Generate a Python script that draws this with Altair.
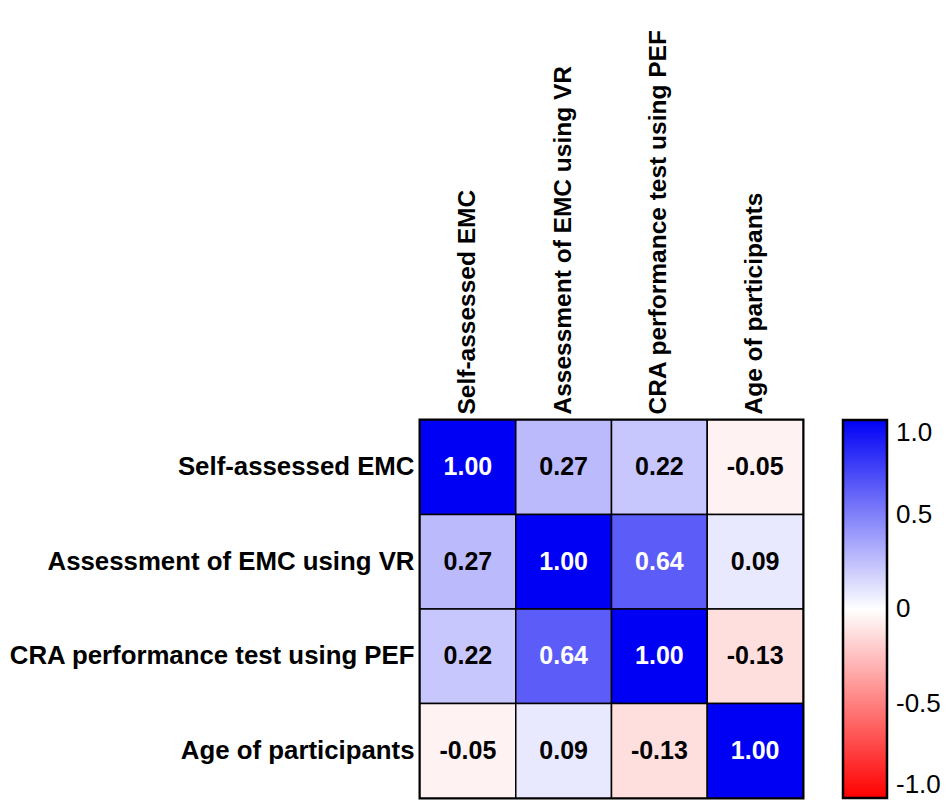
import altair as alt
import pandas as pd

variables = [
    "Self-assessed EMC",
    "Assessment of EMC using VR",
    "CRA performance test using PEF",
    "Age of participants",
]
row_self = [1.00, 0.27, 0.22, -0.05]
row_vr = [0.27, 1.00, 0.64, 0.09]
row_pef = [0.22, 0.64, 1.00, -0.13]
row_age = [-0.05, 0.09, -0.13, 1.00]
matrix = [row_self, row_vr, row_pef, row_age]
legend_ticks = [-1.0, -0.5, 0.0, 0.5, 1.0]

records = []
for i, rname in enumerate(variables):
    for j, cname in enumerate(variables):
        v = matrix[i][j]
        records.append({"row": rname, "col": cname, "r": v, "label": f"{v:.2f}"})
df = pd.DataFrame(records)

FONT = "Liberation Sans"

base = alt.Chart(df).encode(
    x=alt.X("col:N", sort=variables,
            axis=alt.Axis(orient="top", title=None, labelAngle=-90, labelAlign="left",
                          labelBaseline="middle", labelFont=FONT, labelFontSize=24.5,
                          labelFontWeight="bold", labelColor="black", ticks=False,
                          domain=False, labelPadding=6, labelLimit=600)),
    y=alt.Y("row:N", sort=variables,
            axis=alt.Axis(title=None, labelFont=FONT, labelFontSize=25.8,
                          labelFontWeight="bold", labelColor="black", ticks=False,
                          domain=False, labelPadding=6, labelLimit=600)),
)

rects = base.mark_rect(stroke="black", strokeWidth=1.5).encode(
    color=alt.Color("r:Q",
                    scale=alt.Scale(domain=[-1, 0, 1], range=["#ff0000", "#ffffff", "#0000f5"],
                                    interpolate="rgb"),
                    legend=alt.Legend(title=None, orient="right", offset=40,
                                      direction="vertical", gradientLength=378,
                                      gradientThickness=44, gradientStrokeColor="black",
                                      gradientStrokeWidth=2.5, values=legend_ticks,
                                      labelFont=FONT, labelFontSize=26, labelColor="black",
                                      labelOffset=9, labelBaseline="middle",
                                      labelOverlap=False,
                                      labelExpr="datum.value == 0 ? '0' : (datum.value < 0 ? '-' + format(-datum.value, '.1f') : format(datum.value, '.1f'))"))
)

texts = base.mark_text(font=FONT, fontSize=25, fontWeight="bold").encode(
    text="label:N",
    color=alt.condition("datum.r > 0.5", alt.value("white"), alt.value("black")),
)

chart = (rects + texts).properties(
    width=383, height=378,
    autosize=alt.AutoSizeParams(type="none"),
    padding={"top": 412, "left": 412, "right": 139, "bottom": 6},
).configure_view(stroke="black", strokeWidth=3)

chart.save("out.html", embed_options={"renderer": "svg", "actions": False})
